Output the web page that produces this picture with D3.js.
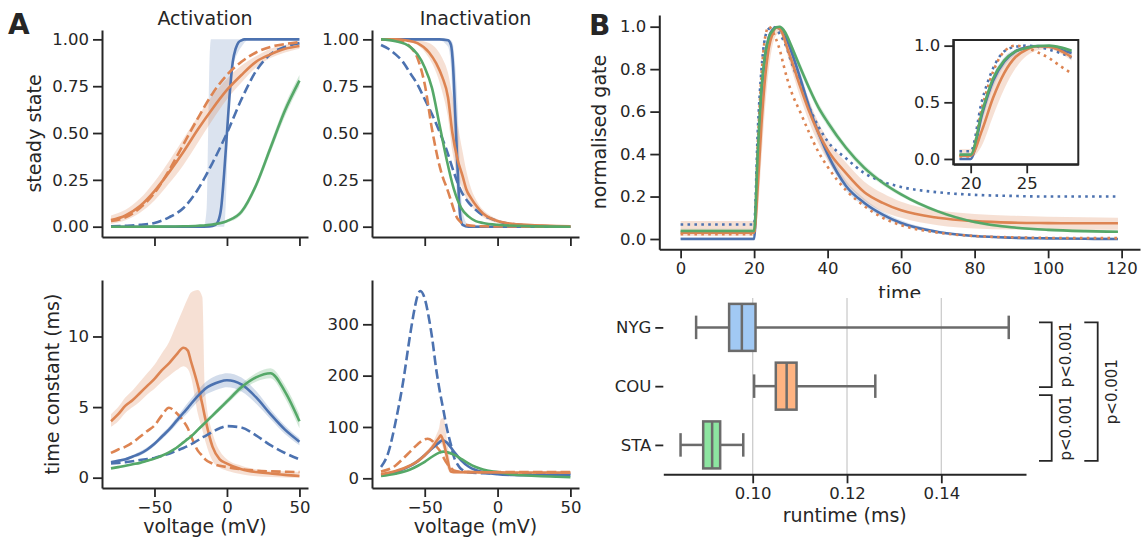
<!DOCTYPE html>
<html>
<head>
<meta charset="utf-8">
<script src="https://cdn.jsdelivr.net/npm/d3@7"></script>
<style>
  body { margin: 0; background: #fff; }
  svg { display: block; font-family: "DejaVu Sans", sans-serif; }
</style>
</head>
<body>
<svg id="fig" width="1143" height="542"></svg>
<script>
// ---------------- data ----------------

// A, top left: activation steady state
const actV = [-80, -70, -60, -50, -40, -30, -20, -10, 0, 10, 20, 30, 40, 50];
const actOrange = [0.035, 0.06, 0.11, 0.19, 0.29, 0.40, 0.52, 0.63, 0.73, 0.81, 0.88, 0.92, 0.95, 0.965];
const actOrangeLo = [0.015, 0.035, 0.075, 0.14, 0.23, 0.33, 0.45, 0.57, 0.68, 0.77, 0.85, 0.90, 0.93, 0.95];
const actOrangeHi = [0.06, 0.09, 0.15, 0.24, 0.35, 0.47, 0.59, 0.70, 0.79, 0.86, 0.91, 0.95, 0.97, 0.985];
const actOrangeDash = [0.03, 0.05, 0.10, 0.18, 0.30, 0.44, 0.58, 0.71, 0.81, 0.88, 0.93, 0.96, 0.975, 0.985];
const actBlueDash = [0.002, 0.005, 0.01, 0.02, 0.05, 0.10, 0.20, 0.34, 0.50, 0.68, 0.83, 0.92, 0.96, 0.98];
const actGreen = [0, 0, 0, 0.0005, 0.001, 0.002, 0.005, 0.012, 0.03, 0.08, 0.22, 0.42, 0.62, 0.78];
const actGreenLo = [0, 0, 0, 0, 0, 0.001, 0.003, 0.008, 0.022, 0.065, 0.20, 0.395, 0.59, 0.75];
const actGreenHi = [0, 0, 0, 0.001, 0.002, 0.003, 0.007, 0.016, 0.038, 0.095, 0.24, 0.445, 0.65, 0.81];
const actBlueV = [-80, -20, -12, -8, -6, -4, -2, 0, 2, 4, 6, 8, 10, 12, 15, 50];
const actBlue = [0, 0, 0.001, 0.01, 0.03, 0.10, 0.28, 0.50, 0.72, 0.88, 0.95, 0.985, 0.995, 1, 1, 1];
const actBlueBandV = [-80, -16, -14, -13, -12, -11, -2, 0, 1, 2, 4, 7, 10, 13, 15, 50];
const actBlueLo = [0, 0, 0, 0, 0, 0, 0, 0.3, 0.6, 0.75, 0.85, 0.92, 0.96, 0.99, 1, 1];
const actBlueHi = [0, 0, 0.1, 0.5, 0.9, 1, 1, 1, 1, 1, 1, 1, 1, 1, 1, 1];

// A, top right: inactivation steady state
const inaBlueV = [-80, -40, -34, -32, -30.5, -29.5, -28.5, -27.5, -26.5, -25.5, -24, -20, 50];
const inaBlue = [1, 1, 0.995, 0.97, 0.85, 0.68, 0.5, 0.32, 0.15, 0.05, 0.01, 0, 0];
const inaBlueLo = [1, 0.995, 0.96, 0.85, 0.6, 0.4, 0.25, 0.12, 0.05, 0.02, 0.005, 0, 0];
const inaBlueHi = [1, 1, 1, 0.995, 0.97, 0.9, 0.8, 0.65, 0.45, 0.25, 0.08, 0.01, 0];
const inaBlueDashV = [-80, -75, -70, -65, -60, -55, -50, -45, -40, -35, -30, -25, -20, -15, -10, -5, 0, 10, 20, 30, 50];
const inaBlueDash = [0.97, 0.95, 0.92, 0.88, 0.82, 0.76, 0.68, 0.60, 0.51, 0.41, 0.29, 0.19, 0.13, 0.09, 0.06, 0.045, 0.03, 0.015, 0.007, 0.003, 0];
const inaOrangeV = [-80, -70, -63, -55, -47, -42, -38, -34, -31, -27.5, -24, -21.5, -18, -14.5, -10, -5, 0, 10, 20, 50];
const inaOrange = [1, 1, 0.995, 0.98, 0.93, 0.87, 0.80, 0.69, 0.5, 0.36, 0.27, 0.2, 0.15, 0.11, 0.07, 0.045, 0.03, 0.015, 0.01, 0.002];
const inaOrangeLo = [1, 0.995, 0.99, 0.97, 0.90, 0.82, 0.72, 0.58, 0.40, 0.28, 0.20, 0.15, 0.11, 0.08, 0.05, 0.03, 0.02, 0.01, 0.006, 0.001];
const inaOrangeHi = [1, 1, 1, 0.995, 0.98, 0.95, 0.90, 0.82, 0.70, 0.55, 0.40, 0.30, 0.20, 0.14, 0.09, 0.06, 0.04, 0.02, 0.012, 0.003];
const inaOrangeDashV = [-80, -70, -65, -60, -55, -50, -45, -40, -37, -35, -32, -30, -28, -26, -22, -10, 50];
const inaOrangeDash = [1, 0.995, 0.985, 0.96, 0.9, 0.76, 0.52, 0.33, 0.25, 0.21, 0.14, 0.09, 0.05, 0.03, 0.01, 0.002, 0];
const inaGreenV = [-80, -70, -60, -55, -50, -45, -40, -35, -30, -25, -20, -15, -10, 0, 20, 50];
const inaGreen = [1, 0.99, 0.96, 0.92, 0.85, 0.74, 0.55, 0.36, 0.2, 0.1, 0.055, 0.03, 0.02, 0.01, 0.003, 0];

// A, bottom left: activation time constant (ms)
const tauV = [-80, -75, -70, -65, -60, -55, -50, -45, -40, -35, -30, -27, -25, -20, -17, -15, -10, -5, 0, 10, 20, 30, 40, 50];
const tauOrange = [4.0, 4.5, 5.1, 5.5, 6.0, 6.5, 7.0, 7.6, 8.1, 8.7, 9.2, 9.0, 8.3, 6.5, 5.2, 4.2, 2.2, 1.3, 1.0, 0.6, 0.4, 0.3, 0.2, 0.12];
const tauOrangeLo = [3.6, 4.0, 4.6, 5.0, 5.4, 5.9, 6.3, 6.8, 7.2, 7.6, 7.9, 7.7, 7.2, 4.5, 3.4, 2.6, 1.2, 0.7, 0.5, 0.25, 0.1, 0.05, 0.02, 0.0];
const tauOrangeHi = [4.5, 5.0, 5.7, 6.2, 6.8, 7.4, 8.0, 8.8, 9.6, 10.8, 12.0, 12.7, 13.1, 13.3, 12.8, 6.0, 3.2, 1.9, 1.3, 0.85, 0.6, 0.5, 0.45, 0.4];
const tauOrangeDash = [1.75, 2.0, 2.2, 2.5, 2.9, 3.3, 3.7, 4.4, 4.95, 4.6, 4.0, 3.5, 3.0, 1.9, 1.55, 1.3, 1.0, 0.85, 0.75, 0.6, 0.5, 0.45, 0.42, 0.4];
const tauBlue = [1.1, 1.2, 1.3, 1.5, 1.7, 2.0, 2.4, 2.9, 3.4, 4.0, 4.6, 4.95, 5.2, 5.8, 6.1, 6.3, 6.6, 6.8, 6.9, 6.6, 5.7, 4.5, 3.4, 2.55];
const tauBlueLo = [1.0, 1.1, 1.2, 1.4, 1.55, 1.85, 2.25, 2.7, 3.2, 3.75, 4.3, 4.6, 4.85, 5.4, 5.65, 5.85, 6.1, 6.3, 6.4, 6.1, 5.25, 4.15, 3.1, 2.3];
const tauBlueHi = [1.2, 1.3, 1.4, 1.6, 1.85, 2.15, 2.55, 3.1, 3.6, 4.25, 4.9, 5.3, 5.55, 6.2, 6.55, 6.75, 7.1, 7.3, 7.4, 7.1, 6.15, 4.85, 3.7, 2.8];
const tauBlueDash = [1.0, 1.05, 1.1, 1.17, 1.25, 1.32, 1.4, 1.55, 1.7, 1.9, 2.1, 2.25, 2.35, 2.65, 2.85, 2.95, 3.25, 3.5, 3.65, 3.55, 3.0, 2.3, 1.75, 1.3];
const tauGreen = [0.66, 0.75, 0.85, 0.95, 1.05, 1.2, 1.35, 1.55, 1.8, 2.1, 2.5, 2.75, 2.9, 3.4, 3.7, 3.9, 4.4, 4.9, 5.4, 6.4, 7.1, 7.4, 6.1, 4.0];
const tauGreenLo = [0.61, 0.7, 0.8, 0.9, 0.99, 1.14, 1.28, 1.48, 1.72, 2.01, 2.4, 2.65, 2.8, 3.28, 3.57, 3.77, 4.25, 4.73, 5.2, 6.15, 6.8, 7.05, 5.65, 3.5];
const tauGreenHi = [0.71, 0.8, 0.9, 1.0, 1.11, 1.26, 1.42, 1.62, 1.88, 2.19, 2.6, 2.85, 3.0, 3.52, 3.83, 4.03, 4.55, 5.07, 5.6, 6.65, 7.4, 7.75, 6.55, 4.5];

// A, bottom right: inactivation time constant (ms)
const itauBlueDashV = [-80, -75, -70, -65, -60, -57, -55, -53, -50, -47, -45, -42, -40, -37, -35, -32, -30, -27, -25, -20, -10, 0, 50];
const itauBlueDash = [22, 50, 110, 185, 280, 330, 355, 365, 350, 310, 275, 210, 175, 130, 100, 65, 42, 25, 18, 12, 10, 9.5, 8.5];
const itauOrangeV = [-80, -70, -60, -55, -50, -45, -42, -40, -39, -37, -35, -33, -32, -30, 0, 50];
const itauOrange = [8, 14, 25, 33, 45, 60, 72, 80, 84, 70, 45, 20, 13, 12, 11.5, 11];
const itauOrangeLo = [7, 12, 22, 30, 40, 54, 62, 66, 68, 55, 25, 12, 10, 10, 10, 9.5];
const itauOrangeHi = [9, 16, 28, 37, 50, 67, 85, 100, 115, 118, 80, 40, 18, 14, 13, 12.5];
const itauOrangeDashV = [-80, -70, -65, -60, -55, -50, -48, -45, -42, -40, -37, -35, -32, -30, -25, 0, 50];
const itauOrangeDash = [13, 25, 38, 52, 66, 76, 77, 73, 62, 55, 40, 30, 20, 15, 12.5, 12, 12];
const itauBlueV = [-80, -70, -60, -55, -50, -45, -40, -38, -35, -30, -25, -20, -15, -10, 0, 10, 20, 50];
const itauBlue = [6, 12, 24, 33, 45, 58, 70, 74, 70, 52, 35, 23, 16, 12, 8, 6.5, 6, 6];
const itauGreenV = [-80, -70, -60, -55, -50, -45, -40, -37, -35, -30, -25, -20, -15, -10, 0, 10, 20, 30, 40, 50];
const itauGreen = [4.5, 9, 17, 24, 32, 42, 50, 52, 51, 46, 38, 29, 22, 17, 12, 7.5, 5.5, 4, 3, 2];

// B, top: normalised gate over time
const gateT = [0, 19, 20, 21, 22, 23, 24, 25, 26, 27, 28, 29, 30, 32.5, 35, 37.5, 40, 45, 50, 55, 60, 70, 80, 90, 100, 110, 119];
const gateBlue = [0, 0, 0, 0.39, 0.69, 0.86, 0.95, 0.985, 0.997, 0.99, 0.965, 0.935, 0.89, 0.76, 0.62, 0.5, 0.4, 0.25, 0.17, 0.115, 0.075, 0.033, 0.014, 0.006, 0.003, 0.001, 0];
const gateBlueLo = [0, 0, 0, 0.33, 0.63, 0.82, 0.92, 0.97, 0.99, 0.98, 0.95, 0.915, 0.865, 0.73, 0.59, 0.47, 0.375, 0.23, 0.155, 0.1, 0.065, 0.027, 0.01, 0.004, 0.002, 0, 0];
const gateBlueHi = [0.01, 0.01, 0.01, 0.45, 0.74, 0.9, 0.97, 0.995, 1.0, 0.997, 0.98, 0.955, 0.915, 0.79, 0.65, 0.53, 0.43, 0.275, 0.19, 0.13, 0.088, 0.04, 0.018, 0.009, 0.005, 0.003, 0.002];
const gateBlueDot = [0.068, 0.068, 0.068, 0.51, 0.80, 0.95, 0.99, 1.0, 0.99, 0.965, 0.935, 0.895, 0.84, 0.73, 0.62, 0.53, 0.46, 0.38, 0.31, 0.27, 0.245, 0.22, 0.208, 0.203, 0.2, 0.2, 0.2];
const gateOrange = [0.03, 0.03, 0.03, 0.25, 0.54, 0.76, 0.9, 0.965, 0.995, 0.99, 0.955, 0.90, 0.85, 0.72, 0.6, 0.5, 0.42, 0.31, 0.22, 0.17, 0.135, 0.1, 0.084, 0.077, 0.075, 0.074, 0.074];
const gateOrangeLo = [0.015, 0.015, 0.015, 0.12, 0.38, 0.62, 0.8, 0.91, 0.96, 0.97, 0.93, 0.87, 0.81, 0.67, 0.55, 0.45, 0.37, 0.26, 0.18, 0.13, 0.1, 0.065, 0.05, 0.045, 0.044, 0.043, 0.043];
const gateOrangeHi = [0.085, 0.085, 0.085, 0.42, 0.7, 0.87, 0.96, 0.99, 1.0, 1.0, 0.98, 0.94, 0.89, 0.77, 0.65, 0.55, 0.47, 0.36, 0.27, 0.215, 0.175, 0.135, 0.118, 0.11, 0.105, 0.102, 0.1];
const gateOrangeDot = [0.023, 0.023, 0.023, 0.45, 0.77, 0.95, 1.0, 0.98, 0.94, 0.89, 0.82, 0.755, 0.70, 0.6, 0.5, 0.41, 0.34, 0.23, 0.155, 0.1, 0.065, 0.03, 0.014, 0.008, 0.005, 0.004, 0.004];
const gateGreen = [0.038, 0.038, 0.038, 0.41, 0.71, 0.87, 0.95, 0.98, 0.997, 1.0, 0.985, 0.955, 0.915, 0.81, 0.71, 0.62, 0.55, 0.43, 0.335, 0.265, 0.21, 0.13, 0.08, 0.055, 0.043, 0.037, 0.034];
const gateGreenLo = [0.028, 0.028, 0.028, 0.38, 0.69, 0.855, 0.94, 0.975, 0.99, 0.995, 0.975, 0.94, 0.9, 0.79, 0.69, 0.6, 0.53, 0.415, 0.32, 0.253, 0.2, 0.122, 0.073, 0.049, 0.037, 0.031, 0.028];
const gateGreenHi = [0.048, 0.048, 0.048, 0.44, 0.73, 0.885, 0.96, 0.985, 1.0, 1.005, 0.995, 0.97, 0.93, 0.83, 0.73, 0.64, 0.57, 0.445, 0.35, 0.277, 0.22, 0.138, 0.087, 0.061, 0.049, 0.043, 0.04];

// B, bottom: runtime box plot (ms)
const boxCats = ["NYG", "COU", "STA"];
const boxWhiskLo = [0.0880, 0.1003, 0.0847];
const boxQ1 = [0.0950, 0.1049, 0.0895];
const boxMed = [0.0977, 0.1072, 0.0914];
const boxQ3 = [0.1006, 0.1093, 0.0931];
const boxWhiskHi = [0.1543, 0.1260, 0.0980];
const sigPairs = [["NYG", "COU"], ["COU", "STA"], ["NYG", "STA"]];
const sigLabels = ["p<0.001", "p<0.001", "p<0.001"];

// ---------------- drawing ----------------
const BLUE = "#4c72b0", ORANGE = "#dd8452", GREEN = "#55a868";
const BOXFILL = ["#a1c9f4", "#ffb482", "#8de5a1"];
const INK = "#262626";
const LW = 2.6;
const DASH = "9.6,4.2", DOT = "2.6,4.3";
const TICK_FS = 16.5, LABEL_FS = 19;

const svg = d3.select("#fig");

function styleAxis(sel) {
    sel.attr("color", INK).attr("font-size", TICK_FS).attr("font-family", "DejaVu Sans, sans-serif");
    sel.select(".domain").attr("stroke-width", 2);
    sel.selectAll(".tick line").attr("stroke-width", 1.8);
    sel.selectAll(".tick text").attr("fill", INK);
}

// one axes with left/bottom spines
function panel(o) {
    const x = d3.scaleLinear().domain(o.xDomain).range([o.left, o.right]);
    const y = d3.scaleLinear().domain(o.yDomain).range([o.bottom, o.top]);
    const g = svg.append("g");
    const plot = g.append("g");
    const xa = d3.axisBottom(x).tickValues(o.xTicks).tickSize(9).tickSizeOuter(0).tickPadding(4)
        .tickFormat(o.xLabels ? d3.format(o.xFmt) : "");
    const ya = d3.axisLeft(y).tickValues(o.yTicks).tickSize(9).tickSizeOuter(0).tickPadding(4)
        .tickFormat(d3.format(o.yFmt));
    g.append("g").attr("transform", `translate(0,${o.bottom})`).call(xa).call(styleAxis);
    g.append("g").attr("transform", `translate(${o.left},0)`).call(ya).call(styleAxis);
    return {x, y, g: plot};
}

function band(p, xs, lo, hi, color, op) {
    const pts = xs.map((v, i) => [v, lo[i], hi[i]]);
    p.g.append("path").datum(pts)
        .attr("d", d3.area().x(d => p.x(d[0])).y0(d => p.y(d[1])).y1(d => p.y(d[2])).curve(d3.curveMonotoneX))
        .attr("fill", color).attr("fill-opacity", op || 0.25).attr("stroke", "none");
}

function line(p, xs, ys, color, dash) {
    p.g.append("path").datum(d3.zip(xs, ys))
        .attr("d", d3.line().x(d => p.x(d[0])).y(d => p.y(d[1])).curve(d3.curveMonotoneX))
        .attr("fill", "none").attr("stroke", color).attr("stroke-width", LW)
        .attr("stroke-dasharray", dash || null);
}

function text(str, x, y, opts) {
    const t = svg.append("text").attr("x", x).attr("y", y).text(str)
        .attr("fill", INK).attr("font-size", opts.size || LABEL_FS)
        .attr("text-anchor", opts.anchor || "middle");
    if (opts.bold) t.attr("font-weight", "bold");
    if (opts.rotate) t.attr("x", 0).attr("y", 0).attr("transform", `translate(${x},${y}) rotate(-90)`);
    return t;
}

// ---- A1: activation steady state
const a1 = panel({left: 102, right: 308, top: 30, bottom: 237, xDomain: [-86.2, 55.9], yDomain: [-0.055, 1.05],
    xTicks: [-50, 0, 50], xLabels: false, yTicks: [0, 0.25, 0.5, 0.75, 1], yFmt: ".2f"});
band(a1, actBlueBandV, actBlueLo, actBlueHi, BLUE, 0.2);
band(a1, actV, actOrangeLo, actOrangeHi, ORANGE);
band(a1, actV, actGreenLo, actGreenHi, GREEN);
line(a1, actBlueV, actBlue, BLUE);
line(a1, actV, actBlueDash, BLUE, DASH);
line(a1, actV, actOrange, ORANGE);
line(a1, actV, actOrangeDash, ORANGE, DASH);
line(a1, actV, actGreen, GREEN);

// ---- A2: inactivation steady state
const a2 = panel({left: 372, right: 579, top: 30, bottom: 237, xDomain: [-86.2, 55.9], yDomain: [-0.055, 1.05],
    xTicks: [-50, 0, 50], xLabels: false, yTicks: [0, 0.25, 0.5, 0.75, 1], yFmt: ".2f"});
band(a2, inaBlueV, inaBlueLo, inaBlueHi, BLUE, 0.2);
band(a2, inaOrangeV, inaOrangeLo, inaOrangeHi, ORANGE);
line(a2, inaBlueV, inaBlue, BLUE);
line(a2, inaBlueDashV, inaBlueDash, BLUE, DASH);
line(a2, inaOrangeV, inaOrange, ORANGE);
line(a2, inaOrangeDashV, inaOrangeDash, ORANGE, DASH);
line(a2, inaGreenV, inaGreen, GREEN);

// ---- A3: activation time constant
const a3 = panel({left: 102, right: 308, top: 280, bottom: 488, xDomain: [-86.2, 55.9], yDomain: [-0.73, 14.0],
    xTicks: [-50, 0, 50], xLabels: true, xFmt: "d", yTicks: [0, 5, 10], yFmt: "d"});
band(a3, tauV, tauOrangeLo, tauOrangeHi, ORANGE);
band(a3, tauV, tauBlueLo, tauBlueHi, BLUE);
band(a3, tauV, tauGreenLo, tauGreenHi, GREEN);
line(a3, tauV, tauOrange, ORANGE);
line(a3, tauV, tauOrangeDash, ORANGE, DASH);
line(a3, tauV, tauBlue, BLUE);
line(a3, tauV, tauBlueDash, BLUE, DASH);
line(a3, tauV, tauGreen, GREEN);

// ---- A4: inactivation time constant
const a4 = panel({left: 372, right: 579, top: 280, bottom: 488, xDomain: [-86.2, 55.9], yDomain: [-18.9, 386.3],
    xTicks: [-50, 0, 50], xLabels: true, xFmt: "d", yTicks: [0, 100, 200, 300], yFmt: "d"});
band(a4, itauOrangeV, itauOrangeLo, itauOrangeHi, ORANGE);
line(a4, itauBlueDashV, itauBlueDash, BLUE, DASH);
line(a4, itauOrangeDashV, itauOrangeDash, ORANGE, DASH);
line(a4, itauBlueV, itauBlue, BLUE);
line(a4, itauGreenV, itauGreen, GREEN);
line(a4, itauOrangeV, itauOrange, ORANGE);

// A labels
text("Activation", 205, 25, {});
text("Inactivation", 475.5, 25, {});
text("steady state", 40.5, 133.5, {rotate: true});
text("time constant (ms)", 59, 384, {rotate: true});
text("voltage (mV)", 205, 533, {});
text("voltage (mV)", 475.5, 533, {});
text("A", 8, 34, {size: 28, bold: true, anchor: "start"});

// ---- B1: normalised gate
const b1 = panel({left: 659.3, right: 1140, top: 15, bottom: 249.3, xDomain: [-5.8, 125], yDomain: [-0.0485, 1.055],
    xTicks: [0, 20, 40, 60, 80, 100, 120], xLabels: true, xFmt: "d", yTicks: [0, 0.2, 0.4, 0.6, 0.8, 1.0], yFmt: ".1f"});

function gatePlot(p, keep) {
    const idx = gateT.map((t, i) => i).filter(i => keep(gateT[i]));
    const pick = arr => idx.map(i => arr[i]);
    const ts = pick(gateT);
    band(p, ts, pick(gateBlueLo), pick(gateBlueHi), BLUE, 0.2);
    band(p, ts, pick(gateOrangeLo), pick(gateOrangeHi), ORANGE, 0.25);
    band(p, ts, pick(gateGreenLo), pick(gateGreenHi), GREEN, 0.2);
    line(p, ts, pick(gateBlue), BLUE);
    line(p, ts, pick(gateBlueDot), BLUE, DOT);
    line(p, ts, pick(gateOrange), ORANGE);
    line(p, ts, pick(gateOrangeDot), ORANGE, DOT);
    line(p, ts, pick(gateGreen), GREEN);
}
gatePlot(b1, t => true);

// inset
svg.append("rect").attr("x", 953.3).attr("y", 40).attr("width", 125).attr("height", 124.3).attr("fill", "#fff");
const b2 = panel({left: 953.3, right: 1078.3, top: 40, bottom: 164.3, xDomain: [18.45, 29.6], yDomain: [-0.047, 1.05],
    xTicks: [20, 25], xLabels: true, xFmt: "d", yTicks: [0, 0.5, 1.0], yFmt: ".1f"});
gatePlot(b2, t => t >= 19 && t <= 29);
svg.append("rect").attr("x", 953.3).attr("y", 40).attr("width", 125).attr("height", 124.3)
    .attr("fill", "none").attr("stroke", INK).attr("stroke-width", 2);

text("normalised gate", 605.5, 132, {rotate: true});
text("time", 899.7, 300, {});
text("B", 589, 35, {size: 28, bold: true, anchor: "start"});

// ---- B bottom: runtime boxes
const bx = d3.scaleLinear().domain([0.08104, 0.15796]).range([663.3, 1026]);
const by = d3.scalePoint().domain(boxCats).range([298, 474.3]).padding(0.5);
const boxH = by.step() * 0.8;
const GRAY = "#6b6b6b";
svg.append("rect").attr("x", 663.3).attr("y", 298).attr("width", 1026 - 663.3).attr("height", 474.3 - 298).attr("fill", "#fff");
const bg = svg.append("g");
bg.selectAll("line.grid").data([0.10, 0.12, 0.14]).enter().append("line")
    .attr("x1", d => bx(d)).attr("x2", d => bx(d)).attr("y1", 298).attr("y2", 474.3)
    .attr("stroke", "#cccccc").attr("stroke-width", 1.3);
boxCats.forEach((c, i) => {
    const cy = by(c);
    const gb = bg.append("g").attr("stroke", GRAY).attr("stroke-width", 2.5);
    gb.append("line").attr("x1", bx(boxWhiskLo[i])).attr("x2", bx(boxQ1[i])).attr("y1", cy).attr("y2", cy);
    gb.append("line").attr("x1", bx(boxQ3[i])).attr("x2", bx(boxWhiskHi[i])).attr("y1", cy).attr("y2", cy);
    [boxWhiskLo[i], boxWhiskHi[i]].forEach(v => gb.append("line")
        .attr("x1", bx(v)).attr("x2", bx(v)).attr("y1", cy - boxH / 4).attr("y2", cy + boxH / 4));
    gb.append("rect").attr("x", bx(boxQ1[i])).attr("y", cy - boxH / 2)
        .attr("width", bx(boxQ3[i]) - bx(boxQ1[i])).attr("height", boxH).attr("fill", BOXFILL[i]);
    gb.append("line").attr("x1", bx(boxMed[i])).attr("x2", bx(boxMed[i])).attr("y1", cy - boxH / 2).attr("y2", cy + boxH / 2);
});
svg.append("g").attr("transform", "translate(0,474.3)")
    .call(d3.axisBottom(bx).tickValues([0.10, 0.12, 0.14]).tickFormat(d3.format(".2f")).tickSize(9).tickSizeOuter(0).tickPadding(4))
    .call(styleAxis);
svg.append("g").attr("transform", "translate(663.3,0)")
    .call(d3.axisLeft(by).tickSize(8).tickPadding(4))
    .call(styleAxis)
    .call(s => s.select(".domain").remove());
text("runtime (ms)", 844.7, 522, {});

// significance brackets
const brTop = c => by(c) - 5 + (c === "COU" ? 14 : 0);
const brBot = c => by(c) + (c === "COU" ? 1 : 16);
sigPairs.forEach((pair, i) => {
    const x1 = i < 2 ? 1039 : 1084.3, x2 = i < 2 ? 1051.7 : 1097.7;
    const y1 = brTop(pair[0]), y2 = brBot(pair[1]);
    svg.append("path").attr("d", `M${x1},${y1}H${x2}V${y2}H${x1}`)
        .attr("fill", "none").attr("stroke", INK).attr("stroke-width", 1.8);
    text(sigLabels[i], x2 + 19.5, (y1 + y2) / 2, {rotate: true, size: 15});
});
</script>
</body>
</html>
